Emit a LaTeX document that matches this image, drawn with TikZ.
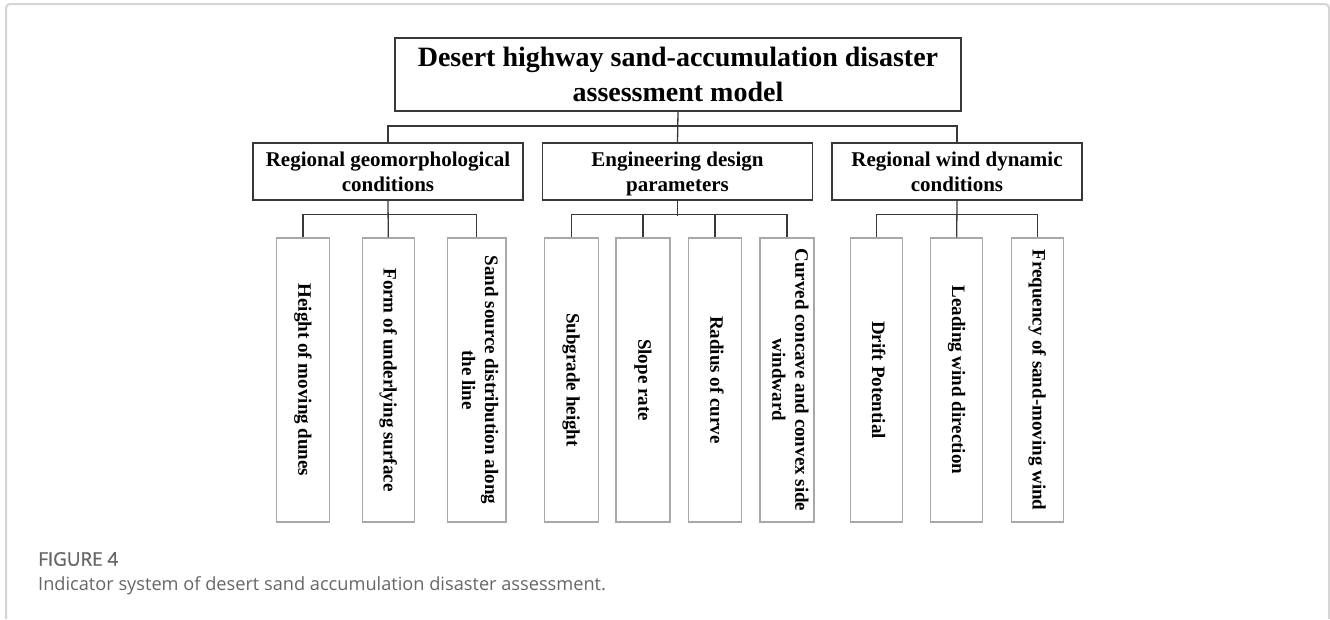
\documentclass[tikz,border=0pt]{standalone}
\usepackage{fontspec}
\setmainfont{Liberation Serif}
\newfontfamily\capfont{Open Sans}
\newfontfamily\capheadfont[FakeBold=1.2]{Open Sans}
\definecolor{framegray}{HTML}{D6D6D6}
\definecolor{leafgray}{HTML}{A8A8A8}
\definecolor{linegray}{HTML}{383838}
\definecolor{capgray}{HTML}{666666}
\tikzset{
  topbox/.style={draw=linegray, line width=1.3pt, minimum width=566pt, minimum height=73pt,
    align=center, inner sep=0pt, text depth=0pt, font=\bfseries\fontsize{28}{35}\selectfont},
  groupbox/.style={draw=linegray, line width=1.3pt, minimum width=270pt, minimum height=57pt,
    align=center, inner sep=0pt, text depth=0pt, font=\bfseries\fontsize{21}{25.5}\selectfont},
  leafbox/.style={draw=leafgray, line width=1.1pt, minimum width=284pt, minimum height=53pt,
    align=center, inner sep=0pt, rotate=-90, font=\bfseries\fontsize{19}{23}\selectfont,
    execute at begin node=\strut, execute at end node=\strut},
  wire/.style={draw=linegray, line width=1.3pt},
  captext/.style={anchor=base west, inner sep=0pt, text=capgray}
}
\begin{document}
\begin{tikzpicture}[x=1pt,y=1pt]
  \useasboundingbox (0,0) rectangle (1330,-619);
  % panel frame
  \draw[framegray, line width=2pt, rounded corners=4pt] (6,-619) -- (6,-4) -- (1329,-4) -- (1329,-619);

  % model and indicator groups
  \node[topbox] (model) at (678,-74.5) {Desert highway sand-accumulation disaster\\assessment model};
  \node[groupbox] (geo) at (388,-171.5) {Regional geomorphological\\conditions};
  \node[groupbox] (eng) at (677.5,-171.5) {Engineering design\\parameters};
  \node[groupbox, minimum width=250pt] (wind) at (957,-171.5) {Regional wind dynamic\\conditions};

  % indicators
  \node[leafbox] (dune) at (303,-380) {Height of moving dunes};
  \node[leafbox, minimum height=52pt] (surf) at (388.3,-380) {Form of underlying surface};
  \node[leafbox, minimum height=58.5pt] (sand) at (476.7,-380) {Sand source distribution along\\the line};
  \node[leafbox, minimum height=54pt] (subg) at (571.2,-380) {Subgrade height};
  \node[leafbox, minimum height=54pt] (slope) at (643,-380) {Slope rate};
  \node[leafbox] (rad) at (715,-380) {Radius of curve};
  \node[leafbox, minimum height=54pt] (curv) at (787,-380) {Curved concave and convex side\\windward};
  \node[leafbox, minimum height=52pt] (drift) at (876.7,-380) {Drift Potential};
  \node[leafbox, minimum height=52pt] (lead) at (956.7,-380) {Leading wind direction};
  \node[leafbox, minimum height=52pt] (freq) at (1037.2,-380) {Frequency of sand-moving wind};

  % connectors
  \draw[wire] (model.south) -- (eng.north);
  \draw[wire] (geo.north) -- ++(0,16.3) -| (wind.north);
  \draw[wire] (geo.south) -- (surf.west);
  \draw[wire] (dune.west) -- ++(0,23) -| (sand.west);
  \draw[wire] (eng.south) -- ++(0,-15);
  \draw[wire] (subg.west) -- ++(0,23) -| (curv.west);
  \foreach \n in {slope,rad}
    \draw[wire] (\n.west) -- ++(0,23);
  \draw[wire] (wind.south) -- (lead.west);
  \draw[wire] (drift.west) -- ++(0,23) -| (freq.west);

  % caption
  \node[captext, font=\capheadfont\fontsize{18.8}{20}\selectfont] (figlabel) at (38,-565.7) {FIGURE 4};
  \node[captext, font=\capfont\fontsize{18.2}{20}\selectfont] (figcaption) at (38,-590.7) {Indicator system of desert sand accumulation disaster assessment.};
\end{tikzpicture}
\end{document}
